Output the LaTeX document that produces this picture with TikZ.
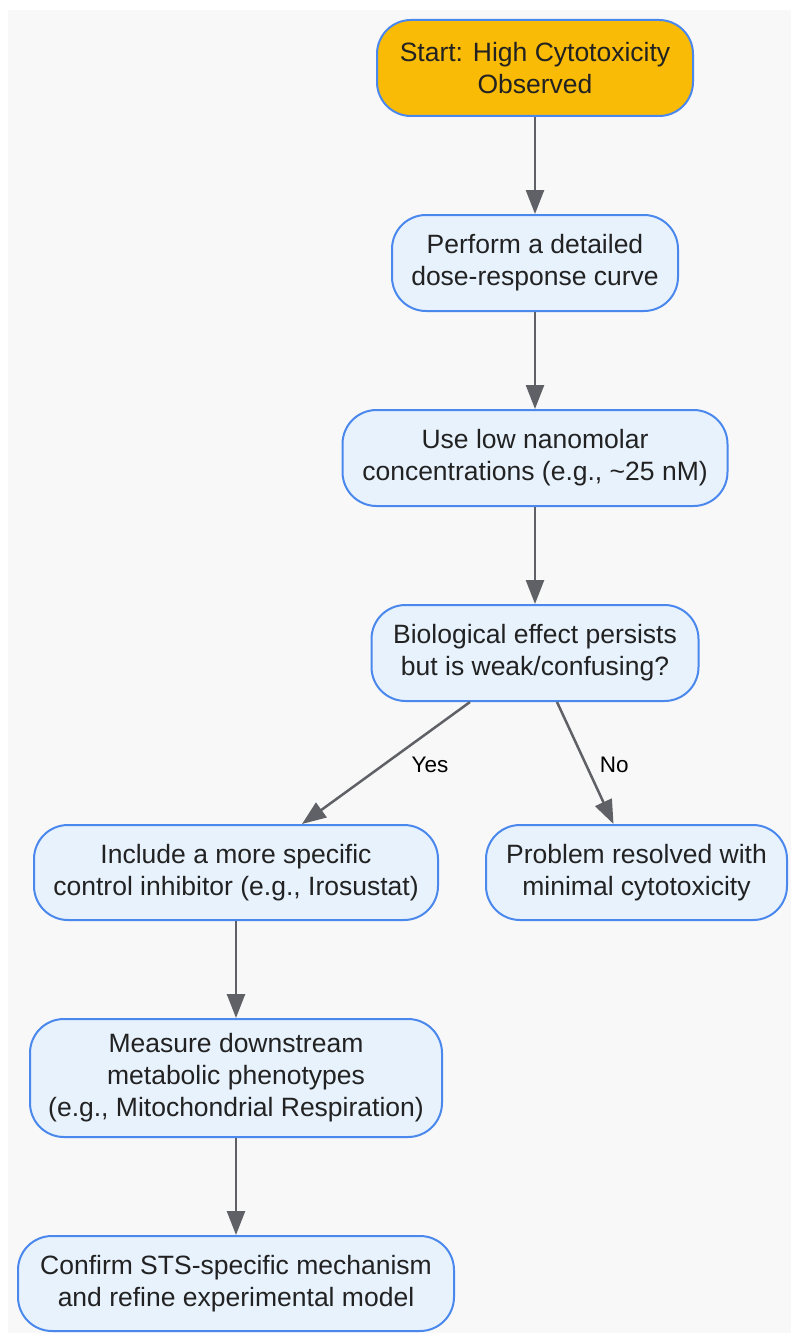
\documentclass[tikz,border=0pt]{standalone}
\usepackage{fontspec}
\setmainfont{Liberation Sans}
\usetikzlibrary{arrows.meta}
\definecolor{bgc}{HTML}{F8F8F8}
\definecolor{bord}{HTML}{4A88EE}
\definecolor{fillb}{HTML}{E7F2FD}
\definecolor{filly}{HTML}{FABB06}
\definecolor{txt}{HTML}{222222}
\definecolor{edg}{HTML}{5F6166}
\tikzset{
  box/.style={draw=bord, line width=2pt, fill=fillb, rounded corners=34pt,
    minimum height=96pt, align=center, text=txt, inner sep=0pt,
    font=\fontsize{26.5}{32}\selectfont},
  startbox/.style={box, fill=filly},
  conn/.style={draw=edg, line width=2.5pt, -{Triangle[length=24pt,width=18pt]}},
  lbl/.style={font=\fontsize{22.5}{26}\selectfont, text=black, inner sep=0pt}
}
\begin{document}
\begin{tikzpicture}[x=1pt,y=-1pt]
\useasboundingbox (0,0) rectangle (791,1335);
\fill[bgc] (8,10) rectangle (791,1333);
\node[startbox, minimum width=316pt] (start) at (535,68) {Start: High Cytotoxicity\\Observed};
\node[box, minimum width=286pt] (dose) at (535,263) {Perform a detailed\\dose-response curve};
\node[box, minimum width=385pt] (low) at (535,458) {Use low nanomolar\\concentrations (e.g., \textasciitilde25 nM)};
\node[box, minimum width=327pt] (bio) at (535,653) {Biological effect persists\\but is weak/confusing?};
\node[box, minimum width=404pt, minimum height=95pt] (inc) at (236,872.5) {Include a more specific\\control inhibitor (e.g., Irosustat)};
\node[box, minimum width=301pt, minimum height=95pt] (prob) at (636.5,872.5) {Problem resolved with\\minimal cytotoxicity};
\node[box, minimum width=412pt, minimum height=118pt] (meas) at (236,1078) {Measure downstream\\metabolic phenotypes\\(e.g., Mitochondrial Respiration)};
\node[box, minimum width=436pt, minimum height=95pt] (conf) at (236,1283.5) {Confirm STS-specific mechanism\\and refine experimental model};
\draw[conn] (start) -- (dose);
\draw[conn] (dose) -- (low);
\draw[conn] (low) -- (bio);
\draw[conn] ([xshift=-65pt]bio.south) -- ([xshift=66pt]inc.north) node[lbl, pos=0.5, xshift=44pt, yshift=-1.5pt] (yes) {Yes};
\draw[conn] ([xshift=22pt]bio.south) -- ([xshift=-23pt]prob.north) node[lbl, pos=0.5, xshift=29pt, yshift=-1.5pt] (no) {No};
\draw[conn] (inc) -- (meas);
\draw[conn] (meas) -- (conf);
\end{tikzpicture}
\end{document}
